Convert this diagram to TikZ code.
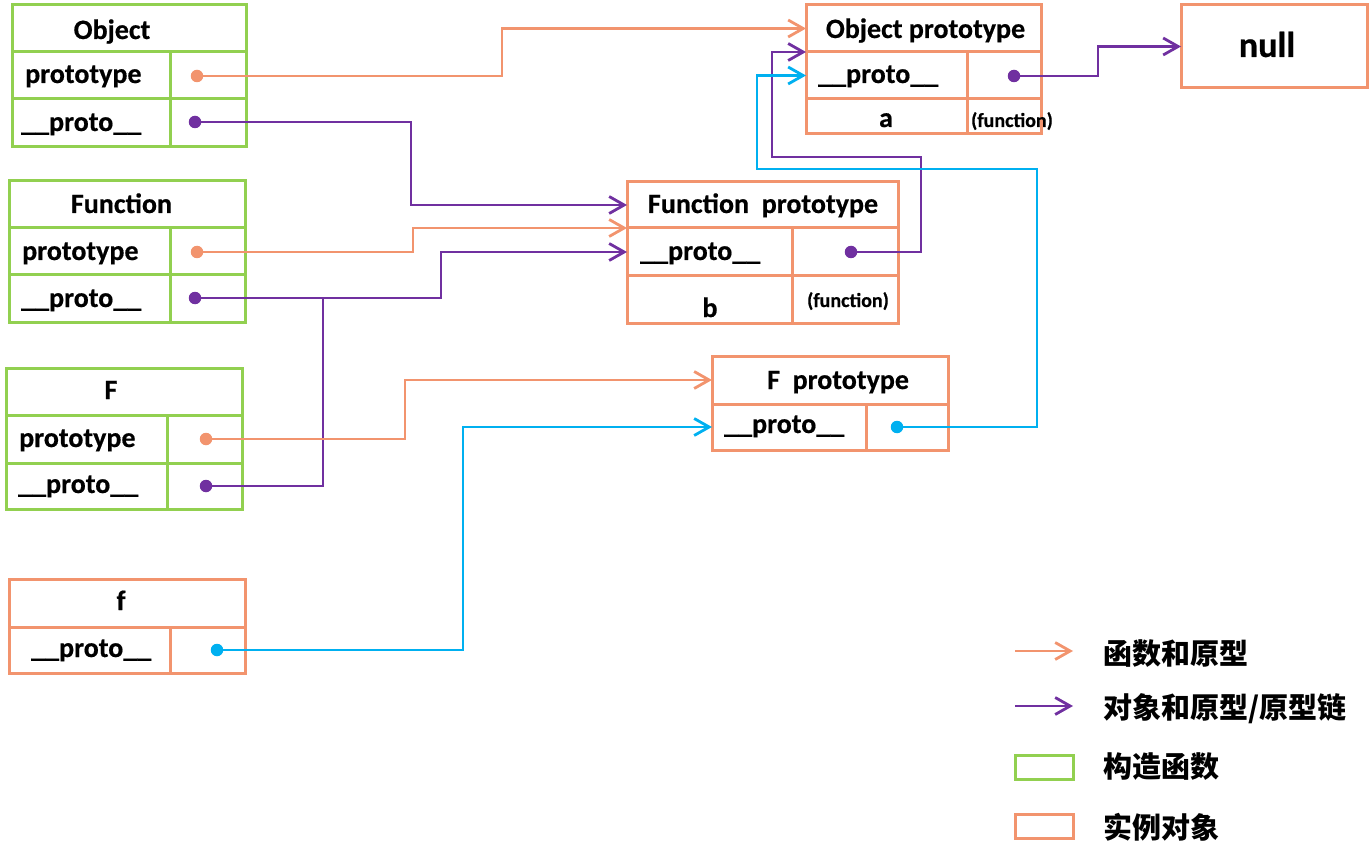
\documentclass[tikz,border=0pt]{standalone}
\usepackage{fontspec}
\setmainfont{Carlito}[BoldFeatures={FakeBold=0.5}]
\newfontfamily\cjk{Noto Sans CJK SC}
\usetikzlibrary{arrows.meta}
\definecolor{cgreen}{HTML}{92D050}
\definecolor{corange}{HTML}{F2946E}
\definecolor{cpurple}{HTML}{7030A0}
\definecolor{cblue}{HTML}{00B0F0}
\newcommand\mycell[6]{\node[#6,minimum width={(#4-#2)*1pt},minimum height={(#5-#3)*1pt}] (#1) at ({(#2+#4)/2},{(#3+#5)/2}) {};}
\begin{document}
\begin{tikzpicture}[x=1pt,y=-1pt,
  box/.style={draw,line width=3pt,inner sep=0pt,outer sep=0pt},
  gbox/.style={box,draw=cgreen},
  obox/.style={box,draw=corange},
  lbl/.style={inner sep=0pt,font=\fontsize{28}{30}\selectfont\bfseries},
  bigl/.style={inner sep=0pt,font=\fontsize{36}{38}\selectfont\bfseries},
  small/.style={inner sep=0pt,font=\fontsize{20}{22}\selectfont\bfseries},
  cjkl/.style={inner sep=0pt,anchor=west,font=\fontsize{29}{31}\selectfont\cjk\bfseries},
  dot/.style={circle,fill=#1,inner sep=0pt,minimum size=12.5pt},
  link/.style={line width=2.8pt,line join=miter},
  tip/.style={-{Straight Barb[length=15pt,width=17pt]}},
  olink/.style={link,tip,draw=corange},
  plink/.style={link,tip,draw=cpurple},
  blink/.style={link,tip,draw=cblue}]
\useasboundingbox (0,0) rectangle (1370,850);

% ---- Object (constructor)
\mycell{Oh}{12}{5}{246}{52}{gbox}
\mycell{Opl}{12}{52}{170}{99}{gbox}
\mycell{Opr}{170}{52}{246}{99}{gbox}
\mycell{Oql}{12}{99}{170}{147}{gbox}
\mycell{Oqr}{170}{99}{246}{147}{gbox}
\node[lbl,anchor=base] (tOh) at (112,39) {Object};
\node[lbl,anchor=base west] (tOp) at (25,83) {prototype};
\node[lbl,anchor=base west] (tOq) at (21,131) {\_\_proto\_\_};

% ---- Function (constructor)
\mycell{Fh}{9}{181}{245}{228}{gbox}
\mycell{Fpl}{9}{228}{170}{275}{gbox}
\mycell{Fpr}{170}{228}{245}{275}{gbox}
\mycell{Fql}{9}{275}{170}{322}{gbox}
\mycell{Fqr}{170}{275}{245}{322}{gbox}
\node[lbl,anchor=base] (tFh) at (121.5,213) {Function};
\node[lbl,anchor=base west] (tFp) at (22,260) {prototype};
\node[lbl,anchor=base west] (tFq) at (21,307) {\_\_proto\_\_};

% ---- F (constructor)
\mycell{Gh}{6}{368}{242}{415}{gbox}
\mycell{Gpl}{6}{415}{167}{463}{gbox}
\mycell{Gpr}{167}{415}{242}{463}{gbox}
\mycell{Gql}{6}{463}{167}{509}{gbox}
\mycell{Gqr}{167}{463}{242}{509}{gbox}
\node[lbl,anchor=base] (tGh) at (111,399) {F};
\node[lbl,anchor=base west] (tGp) at (19,447) {prototype};
\node[lbl,anchor=base west] (tGq) at (18,493) {\_\_proto\_\_};

% ---- f (instance)
\mycell{ih}{9}{579}{245}{627}{obox}
\mycell{iql}{9}{627}{170}{673}{obox}
\mycell{iqr}{170}{627}{245}{673}{obox}
\node[lbl,anchor=base] (tih) at (121,610) {f};
\node[lbl,anchor=base west] (tiq) at (31,657) {\_\_proto\_\_};

% ---- Object prototype
\mycell{OPh}{806}{5}{1041}{52}{obox}
\mycell{OPp}{806}{52}{967}{99}{obox}
\mycell{OPpr}{967}{52}{1041}{99}{obox}
\mycell{OPa}{806}{99}{967}{134}{obox}
\mycell{OPar}{967}{99}{1041}{134}{obox}
\node[lbl,anchor=base] (tOPh) at (925.5,38) {Object prototype};
\node[lbl,anchor=base west] (tOPp) at (818,83) {\_\_proto\_\_};
\node[lbl,anchor=base] (tOPa) at (886,127) {a};
\node[small,anchor=base] (tOPf) at (1012,127) {(function)};

% ---- null
\mycell{nul}{1181}{5}{1367}{88}{obox}
\node[bigl,anchor=base] (tnul) at (1267,57) {null};

% ---- Function prototype
\mycell{FNh}{627}{182}{898}{228}{obox}
\mycell{FNp}{627}{228}{792}{276}{obox}
\mycell{FNpr}{792}{228}{898}{276}{obox}
\mycell{FNb}{627}{276}{792}{323}{obox}
\mycell{FNbr}{792}{276}{898}{323}{obox}
\node[lbl,anchor=base] (tFNh) at (763,213) {Function\ \ prototype};
\node[lbl,anchor=base west] (tFNp) at (640,260) {\_\_proto\_\_};
\node[lbl,anchor=base] (tFNb) at (710,317) {b};
\node[small,anchor=base] (tFNf) at (848,307) {(function)};

% ---- F prototype
\mycell{FPh}{712}{356}{948}{404}{obox}
\mycell{FPp}{712}{404}{866}{450}{obox}
\mycell{FPpr}{866}{404}{948}{450}{obox}
\node[lbl,anchor=base] (tFPh) at (838,389) {F\ \ prototype};
\node[lbl,anchor=base west] (tFPp) at (724,433) {\_\_proto\_\_};

% ---- dots
\node[dot=corange] (dOp) at (197,76) {};
\node[dot=cpurple] (dOq) at (195,122) {};
\node[dot=corange] (dFp) at (197,252) {};
\node[dot=cpurple] (dFq) at (195,298) {};
\node[dot=corange] (dGp) at (206,439) {};
\node[dot=cpurple] (dGq) at (206,486) {};
\node[dot=cblue]   (dIq) at (217,650) {};
\node[dot=cpurple] (dOP) at (1014,76) {};
\node[dot=cpurple] (dFN) at (851,252) {};
\node[dot=cblue]   (dFP) at (897,427) {};

% ---- connectors
\draw[olink] (dOp.center) -| (502,28.5) -- (OPh.west);
\draw[plink] (dOq.center) -| (411,205) -- (FNh.west);
\draw[olink] (dFp.center) -| (413,228) -- (FNp.north west);
\draw[plink] (dFq.center) -| (441,252) -- (FNp.west);
\coordinate (join) at (323,298);
\draw[link,draw=cpurple] (dGq.center) -| (join);
\draw[olink] (dGp.center) -| (405,380) -- (FPh.west);
\draw[blink] (dIq.center) -| (463,427) -- (FPp.west);
\draw[plink] (dFN.center) -| (921,157) -| (772,52) -- (OPp.north west);
\draw[blink] (dFP.center) -| (1037,169) -| (757,75.5) -- (OPp.west);
\draw[plink] (dOP.center) -| (1098,46.5) -- (nul.west);

% ---- legend
\coordinate (l1s) at (1015,651);
\coordinate (l1e) at (1073,651);
\coordinate (l2s) at (1015,706);
\coordinate (l2e) at (1073,706);
\draw[olink] (l1s) -- (l1e);
\draw[plink] (l2s) -- (l2e);
\mycell{lg}{1015}{755}{1073}{779}{gbox}
\mycell{lo}{1015}{814}{1073}{838}{obox}
\node[cjkl] (t1) at (1103,654) {函数和原型};
\node[cjkl] (t2) at (1103,709) {对象和原型/原型链};
\node[cjkl] (t3) at (1103,767) {构造函数};
\node[cjkl] (t4) at (1103,827) {实例对象};
\end{tikzpicture}
\end{document}
